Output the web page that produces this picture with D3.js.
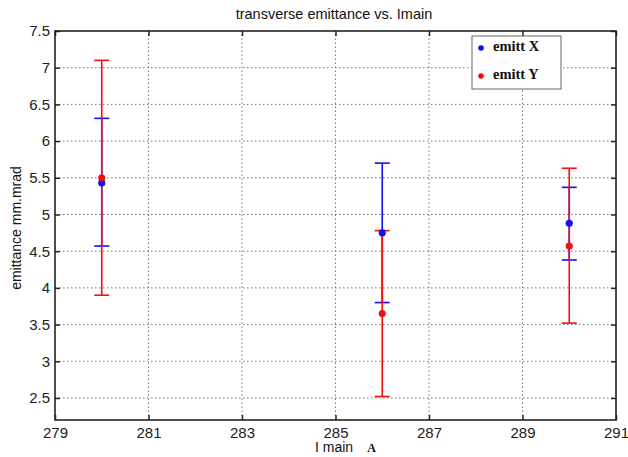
<!DOCTYPE html>
<html>
<head>
<meta charset="utf-8">
<script src="https://cdn.jsdelivr.net/npm/d3@7"></script>
<style>
  body { margin: 0; background: #fff; }
  svg text { font-family: Arial, "Liberation Sans", sans-serif; }
</style>
</head>
<body>
<svg id="chart" width="628" height="457"></svg>
<script>
// data
const currents = [280, 286, 290];
const emittX = [5.43, 4.75, 4.88];
const emittXLow = [4.57, 3.80, 4.38];
const emittXHigh = [6.31, 5.70, 5.37];
const emittY = [5.50, 3.65, 4.57];
const emittYLow = [3.90, 2.52, 3.52];
const emittYHigh = [7.10, 4.78, 5.63];
const xTicks = [279, 281, 283, 285, 287, 289, 291];
const yTicks = [2.5, 3, 3.5, 4, 4.5, 5, 5.5, 6, 6.5, 7, 7.5];

const margin = { left: 55, right: 12, top: 31, bottom: 37 };
const size = { width: 628, height: 457 };

const svg = d3.select('#chart');

const x = d3.scaleLinear()
    .domain([279, 291])
    .range([margin.left, size.width - margin.right]);

const y = d3.scaleLinear()
    .domain([2.2, 7.5])
    .range([size.height - margin.bottom, margin.top]);

const x0 = x.range()[0], x1 = x.range()[1];
const y0 = y.range()[0], y1 = y.range()[1];

// grid
const grid = svg.append('g')
    .attr('stroke', '#555')
    .attr('stroke-width', 0.8)
    .attr('stroke-dasharray', '1.5,2.5');
grid.selectAll('line.v')
    .data(xTicks.slice(1, -1))
    .enter().append('line')
    .attr('x1', d => x(d)).attr('x2', d => x(d))
    .attr('y1', y0).attr('y2', y1);
grid.selectAll('line.h')
    .data(yTicks.slice(0, -1))
    .enter().append('line')
    .attr('x1', x0).attr('x2', x1)
    .attr('y1', d => y(d)).attr('y2', d => y(d));

// axes (matlab box style, ticks inside)
const tickColor = '#222';
const axBottom = svg.append('g')
    .attr('transform', `translate(0, ${y0})`)
    .call(d3.axisBottom(x).tickValues(xTicks).tickSize(-5).tickPadding(7).tickFormat(d3.format('d')));
const axTop = svg.append('g')
    .attr('transform', `translate(0, ${y1})`)
    .call(d3.axisTop(x).tickValues(xTicks).tickSize(-5).tickFormat(''));
const axLeft = svg.append('g')
    .attr('transform', `translate(${x0}, 0)`)
    .call(d3.axisLeft(y).tickValues(yTicks).tickSize(-5).tickPadding(5).tickFormat(d3.format('')));
const axRight = svg.append('g')
    .attr('transform', `translate(${x1}, 0)`)
    .call(d3.axisRight(y).tickValues(yTicks).tickSize(-5).tickFormat(''));

[axBottom, axTop, axLeft, axRight].forEach(g => {
    g.select('.domain').remove();
    g.selectAll('.tick line').attr('stroke', '#222').attr('stroke-width', 1.5);
    g.selectAll('text')
        .attr('fill', tickColor)
        .style('font-size', '15px');
});

svg.append('rect')
    .attr('x', x0).attr('y', y1)
    .attr('width', x1 - x0).attr('height', y0 - y1)
    .attr('fill', 'none')
    .attr('stroke', '#222')
    .attr('stroke-width', 1.6);

// error bars + markers
const series = [
    { name: 'emitt X', color: '#1010f0', mean: emittX, low: emittXLow, high: emittXHigh },
    { name: 'emitt Y', color: '#f01010', mean: emittY, low: emittYLow, high: emittYHigh }
];
const cap = 7.5;

series.forEach(s => {
    const g = svg.append('g').attr('stroke', s.color).attr('stroke-width', 1.6);
    currents.forEach((c, i) => {
        g.append('line')
            .attr('x1', x(c)).attr('x2', x(c))
            .attr('y1', y(s.low[i])).attr('y2', y(s.high[i]));
        g.append('line')
            .attr('x1', x(c) - cap).attr('x2', x(c) + cap)
            .attr('y1', y(s.low[i])).attr('y2', y(s.low[i]));
        g.append('line')
            .attr('x1', x(c) - cap).attr('x2', x(c) + cap)
            .attr('y1', y(s.high[i])).attr('y2', y(s.high[i]));
    });
});
series.forEach(s => {
    svg.append('g').selectAll('circle')
        .data(currents)
        .enter().append('circle')
        .attr('cx', d => x(d))
        .attr('cy', (d, i) => y(s.mean[i]))
        .attr('r', 3.6)
        .attr('fill', s.color);
});

// legend
const legend = svg.append('g').attr('transform', 'translate(472, 36)');
legend.append('rect')
    .attr('width', 89).attr('height', 53)
    .attr('fill', '#fff')
    .attr('stroke', '#666')
    .attr('stroke-width', 1);
series.forEach((s, i) => {
    const ly = 12 + i * 28;
    legend.append('circle')
        .attr('cx', 9).attr('cy', ly)
        .attr('r', 2.8)
        .attr('fill', s.color);
    legend.append('text')
        .attr('x', 21).attr('y', ly + 3)
        .style('font-family', '"Liberation Serif", "Times New Roman", serif')
        .style('font-weight', 'bold')
        .style('font-size', '14.5px')
        .attr('fill', '#111')
        .text(s.name);
});

// titles
svg.append('text')
    .attr('x', 334).attr('y', 19)
    .attr('text-anchor', 'middle')
    .style('font-size', '14.5px')
    .attr('fill', '#111')
    .text('transverse emittance vs. Imain');

const xl = svg.append('text')
    .attr('x', 315).attr('y', 452)
    .style('font-size', '14px')
    .attr('fill', '#111');
xl.append('tspan').text('I main');
xl.append('tspan')
    .attr('dx', 14)
    .style('font-family', '"Liberation Serif", "Times New Roman", serif')
    .style('font-weight', 'bold')
    .style('font-size', '12px')
    .text('A');

svg.append('text')
    .attr('transform', `translate(21, 228) rotate(-90)`)
    .attr('text-anchor', 'middle')
    .style('font-size', '14px')
    .attr('fill', '#111')
    .text('emittance mm.mrad');
</script>
</body>
</html>
